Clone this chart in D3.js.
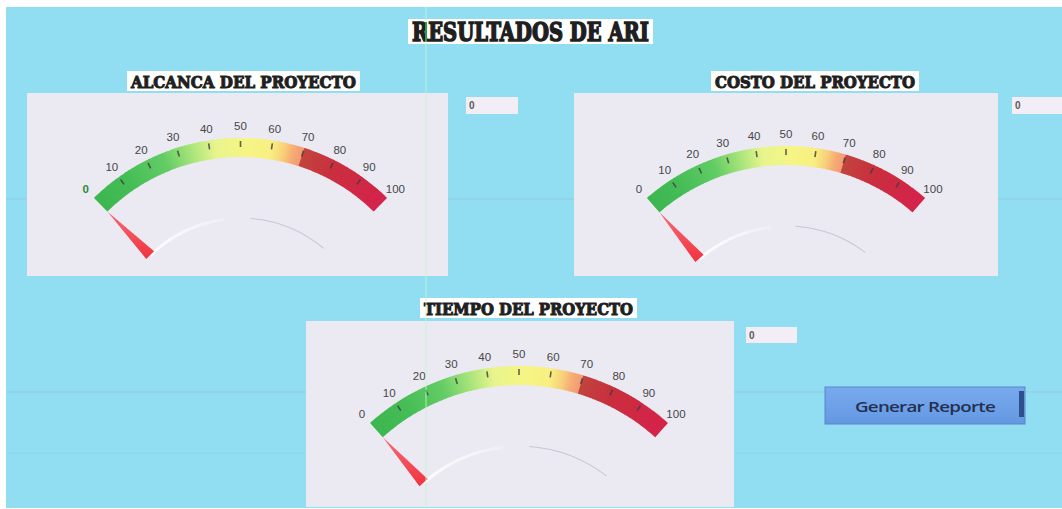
<!DOCTYPE html>
<html>
<head>
<meta charset="utf-8">
<script src="https://cdn.jsdelivr.net/npm/d3@7"></script>
<style>
  html, body { margin: 0; padding: 0; background: #ffffff; }
  svg { display: block; }
</style>
</head>
<body>
<svg id="sheet" width="1062" height="509"></svg>
<script>
// ---- data ----
const sheetTitle = "RESULTADOS DE ARI";
const categories = ["ALCANCA DEL PROYECTO", "COSTO DEL PROYECTO", "TIEMPO DEL PROYECTO"];
const values = [0, 0, 0];
const inputValues = ["0", "0", "0"];
const tickValues = [0, 10, 20, 30, 40, 50, 60, 70, 80, 90, 100];
const tickLabels = ["0", "10", "20", "30", "40", "50", "60", "70", "80", "90", "100"];
const bandStops = [0, 12, 25, 34, 42, 52, 60, 64, 67, 69.9, 70, 80, 100];
const bandColors = ["#3cb64e", "#45bd56", "#62cc64", "#a6e47a", "#e8f58c", "#f6f584", "#f8ef80",
                    "#f8cf78", "#f6ab74", "#f39a72", "#c1433d", "#c92f3d", "#d5214a"];
const buttonLabel = "Generar Reporte";

// ---- layout of each gauge block ----
const layout = [
  { panel: [27, 93, 421, 183], title: [127, 71, 233, 20], cx: 240.5, cy: 347, R: 209, half: 44.5,
    input: [466, 97, 52, 17], zeroGreen: true },
  { panel: [574, 93, 424, 183], title: [711, 71, 208, 20], cx: 786, cy: 358, R: 212, half: 41,
    input: [1012, 97, 50, 17], zeroGreen: false },
  { panel: [306, 321, 428, 186], title: [420, 298, 217, 20], cx: 519, cy: 589, R: 223, half: 41.9,
    input: [746, 327, 51, 16], zeroGreen: false }
];

const svg = d3.select("#sheet");
const W = 1062, H = 509;
const defs = svg.append("defs");

// sheet background
svg.append("rect").attr("x", 6).attr("y", 7).attr("width", W - 6).attr("height", H - 8)
  .attr("fill", "#91ddf1");

// faint worksheet row lines
[199, 392, 453].forEach((y, i) => {
  svg.append("line").attr("x1", 6).attr("x2", W).attr("y1", y).attr("y2", y)
    .attr("stroke", "#9fb7cf").attr("stroke-width", 1).attr("opacity", i === 2 ? 0.3 : 0.45);
});

const color = d3.scaleLinear().domain(bandStops).range(bandColors).interpolate(d3.interpolateRgb);

// needle gradient
const ng = defs.append("linearGradient").attr("id", "needleGrad")
  .attr("x1", "0").attr("y1", "0").attr("x2", "0").attr("y2", "1");
ng.append("stop").attr("offset", "0").attr("stop-color", "#f46a76");
ng.append("stop").attr("offset", "1").attr("stop-color", "#f2323f");

// button gradient
const bg = defs.append("linearGradient").attr("id", "btnGrad")
  .attr("x1", "0").attr("y1", "0").attr("x2", "0").attr("y2", "1");
bg.append("stop").attr("offset", "0").attr("stop-color", "#78aaee");
bg.append("stop").attr("offset", "1").attr("stop-color", "#6398e2");

function titleBox(box, text, size, baselineOffset) {
  const [x, y, w, h] = box;
  svg.append("rect").attr("x", x).attr("y", y).attr("width", w).attr("height", h).attr("fill", "#ffffff");
  svg.append("text").attr("x", x + 4).attr("y", y + baselineOffset)
    .attr("textLength", w - 8).attr("lengthAdjust", "spacingAndGlyphs")
    .attr("font-family", "'DejaVu Serif', serif").attr("font-weight", "bold")
    .attr("font-size", size).attr("fill", "#1f1f1f")
    .attr("stroke", "#1f1f1f").attr("stroke-width", size > 20 ? 1.6 : 1.1)
    .text(text);
}

// sheet title
titleBox([408, 19, 245, 25], sheetTitle, 26, 22);

layout.forEach((g, i) => {
  const [px, py, pw, ph] = g.panel;
  svg.append("rect").attr("x", px).attr("y", py).attr("width", pw).attr("height", ph)
    .attr("fill", "#ebe9f2");

  titleBox(g.title, categories[i], 17, 17);

  const gauge = svg.append("g").attr("transform", `translate(${g.cx},${g.cy})`);
  const halfRad = g.half * Math.PI / 180;
  const angle = d3.scaleLinear().domain([0, 100]).range([-halfRad, halfRad]);
  const R = g.R, band = 19;

  // coloured band, drawn as fine slices along the scale
  const arc = d3.arc().innerRadius(R - band).outerRadius(R);
  const step = 0.5;
  const slices = d3.range(0, 100, step);
  gauge.selectAll("path.band").data(slices).join("path")
    .attr("class", "band")
    .attr("d", v => arc({ startAngle: angle(v), endAngle: angle(Math.min(100, v + step)) + (v + step < 100 ? 0.003 : 0) }))
    .attr("fill", v => color(v + step / 2));

  // faint inner dial line
  const inner = d3.arc().innerRadius(R - 82).outerRadius(R - 79);
  const whiteSeg = d3.range(0, 42, 1);
  gauge.selectAll("path.dial").data(whiteSeg).join("path")
    .attr("class", "dial")
    .attr("d", v => inner({ startAngle: angle(v), endAngle: angle(v + 1.05) }))
    .attr("fill", "#ffffff").attr("opacity", v => 0.95 - v / 60);
  const thin = d3.arc().innerRadius(R - 80.5).outerRadius(R - 79.5);
  gauge.append("path")
    .attr("d", thin({ startAngle: angle(55), endAngle: angle(95) }))
    .attr("fill", "#b9b8c4").attr("opacity", 0.7);

  // tick marks
  gauge.selectAll("line.tick").data(tickValues).join("line")
    .attr("class", "tick")
    .each(function (v) {
      const a = angle(v);
      const p1 = d3.pointRadial(a, R - 3), p2 = d3.pointRadial(a, R - 9);
      d3.select(this).attr("x1", p1[0]).attr("y1", p1[1]).attr("x2", p2[0]).attr("y2", p2[1]);
    })
    .attr("stroke", "#3d3d3d").attr("stroke-width", 1.6)
    .attr("opacity", v => (v === 0 || v === 100) ? 0 : 0.8);

  // tick labels
  gauge.selectAll("text.lbl").data(tickValues).join("text")
    .attr("class", "lbl")
    .attr("x", v => d3.pointRadial(angle(v), R + 12)[0])
    .attr("y", v => d3.pointRadial(angle(v), R + 12)[1])
    .attr("text-anchor", "middle").attr("dominant-baseline", "central")
    .attr("font-family", "'Liberation Sans', Arial, sans-serif").attr("font-size", 11.5)
    .attr("fill", v => (v === 0 && g.zeroGreen) ? "#2e8a3e" : "#474747")
    .attr("font-weight", v => (v === 0 && g.zeroGreen) ? "bold" : "normal")
    .text((v, k) => tickLabels[k]);

  // needle
  const a = angle(values[i]);
  const rTip = R - band, rBase = R - 80, halfW = 5.5;
  const d = rBase > 0 ? halfW / rBase : 0;
  const tip = d3.pointRadial(a, rTip);
  const b1 = d3.pointRadial(a - d, rBase), b2 = d3.pointRadial(a + d, rBase);
  gauge.append("path")
    .attr("d", d3.line()([tip, b1, b2]) + "Z")
    .attr("fill", "url(#needleGrad)");

  // value cell
  const [ix, iy, iw, ih] = g.input;
  svg.append("rect").attr("x", ix).attr("y", iy).attr("width", iw).attr("height", ih)
    .attr("fill", "#f3eef6");
  svg.append("text").attr("x", ix + 3).attr("y", iy + ih / 2 + 3.5)
    .attr("font-family", "'Liberation Sans', Arial, sans-serif").attr("font-size", 10)
    .attr("font-weight", "bold").attr("fill", "#5a5a5a").text(inputValues[i]);
});

// report button
svg.append("rect").attr("x", 825).attr("y", 387).attr("width", 200).attr("height", 37)
  .attr("fill", "url(#btnGrad)").attr("stroke", "#5a86c8").attr("stroke-width", 1);
svg.append("rect").attr("x", 1019).attr("y", 391).attr("width", 5).attr("height", 26)
  .attr("fill", "#2d4f8e");
svg.append("text").attr("x", 855).attr("y", 412)
  .attr("textLength", 140).attr("lengthAdjust", "spacingAndGlyphs")
  .attr("font-family", "'Open Sans', 'Liberation Sans', sans-serif").attr("font-size", 15)
  .attr("font-weight", 600).attr("letter-spacing", -0.6)
  .attr("fill", "#253050").text(buttonLabel);

// active-cell column marker
svg.append("line").attr("x1", 426).attr("x2", 426).attr("y1", 7).attr("y2", H)
  .attr("stroke", "#c8f6d2").attr("stroke-width", 1.5).attr("opacity", 0.55);
svg.append("line").attr("x1", 426).attr("x2", 426).attr("y1", 22).attr("y2", 41)
  .attr("stroke", "#2f9a4a").attr("stroke-width", 2);
</script>
</body>
</html>
